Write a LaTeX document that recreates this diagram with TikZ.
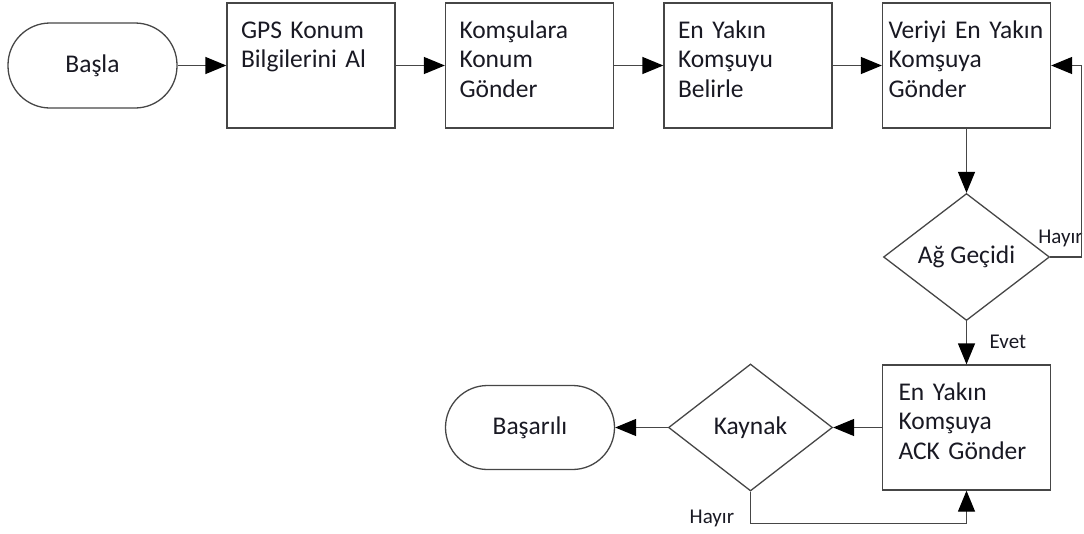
\documentclass[tikz,border=0pt]{standalone}
\usepackage{fontspec}
\setmainfont{Carlito}
\usetikzlibrary{shapes.geometric,arrows.meta}
\definecolor{edgegray}{RGB}{70,70,70}
\definecolor{textdark}{RGB}{25,25,35}
\begin{document}
\begin{tikzpicture}[x=1pt, y=1pt, node distance=218.5pt]
    \tikzset{terminal/.style={rectangle, rounded corners=42pt, draw=edgegray,
        line width=1.3pt, minimum width=169pt, minimum height=85pt,
        text=textdark, font=\fontsize{25.5}{29.5}\selectfont}}
    \tikzset{process/.style={rectangle, draw=edgegray, line width=1.3pt,
        text=textdark, text width=140pt, align=left, inner xsep=14pt,
        inner ysep=0pt, text height=35pt, text depth=90pt,
        font=\fontsize{25.5}{29.5}\selectfont}}
    \tikzset{decision/.style={diamond, draw=edgegray, line width=1.3pt,
        minimum width=166pt, minimum height=127pt, inner sep=0pt,
        text=textdark, font=\fontsize{25.5}{29.5}\selectfont}}
    \tikzset{answer/.style={text=textdark, inner sep=0pt,
        font=\fontsize{21}{24}\selectfont}}
    \tikzset{arrow/.style={draw=edgegray, line width=1.3pt,
        -{Triangle[length=21pt, width=17pt, color=black]}}}

    \useasboundingbox (0,0) rectangle (1084,-533);

    \node (basla) [terminal] at (92.5,-65.5) {Başla};
    \node (gps) [process, right of=basla] {GPS Konum\\Bilgilerini Al};
    \node (komsu) [process, right of=gps] {Komşulara\\Konum\\Gönder};
    \node (belirle) [process, right of=komsu] {En Yakın\\Komşuyu\\Belirle};
    \node (veri) [process, right of=belirle, text width=156pt,
        inner xsep=6pt] {Veriyi En Yakın\\Komşuya\\Gönder};
    \node (gecit) [decision, below of=veri, node distance=191.5pt] {Ağ Geçidi};
    \node (ack) [process, below of=gecit, node distance=170.5pt,
        inner xsep=16pt, text width=136pt] {En Yakın\\Komşuya\\ACK Gönder};
    \node (kaynak) [decision, left of=ack, node distance=216pt,
        minimum width=164pt] {Kaynak};
    \node (basarili) [terminal, left of=kaynak, node distance=220.5pt,
        minimum height=84pt] {Başarılı};

    \node (hayirsag) [answer, anchor=base west]
        at ([shift={(-12pt,14pt)}]gecit.east) {Hayır};
    \node (evet) [answer, anchor=base west]
        at ([shift={(23pt,-27pt)}]gecit.south) {Evet};
    \node (hayiralt) [answer, anchor=base west]
        at ([shift={(-61pt,-32pt)}]kaynak.south) {Hayır};

    \draw [arrow] (basla) -- (gps);
    \draw [arrow] (gps) -- (komsu);
    \draw [arrow] (komsu) -- (belirle);
    \draw [arrow] (belirle) -- (veri);
    \draw [arrow] (veri) -- (gecit);
    \draw [arrow] (gecit.east) -- ++(31,0) |- (veri.east);
    \draw [arrow] (gecit) -- (ack);
    \draw [arrow] (ack) -- (kaynak);
    \draw [arrow] (kaynak) -- (basarili);
    \draw [arrow] (kaynak.south) -- ++(0,-32) -| (ack.south);
\end{tikzpicture}
\end{document}
